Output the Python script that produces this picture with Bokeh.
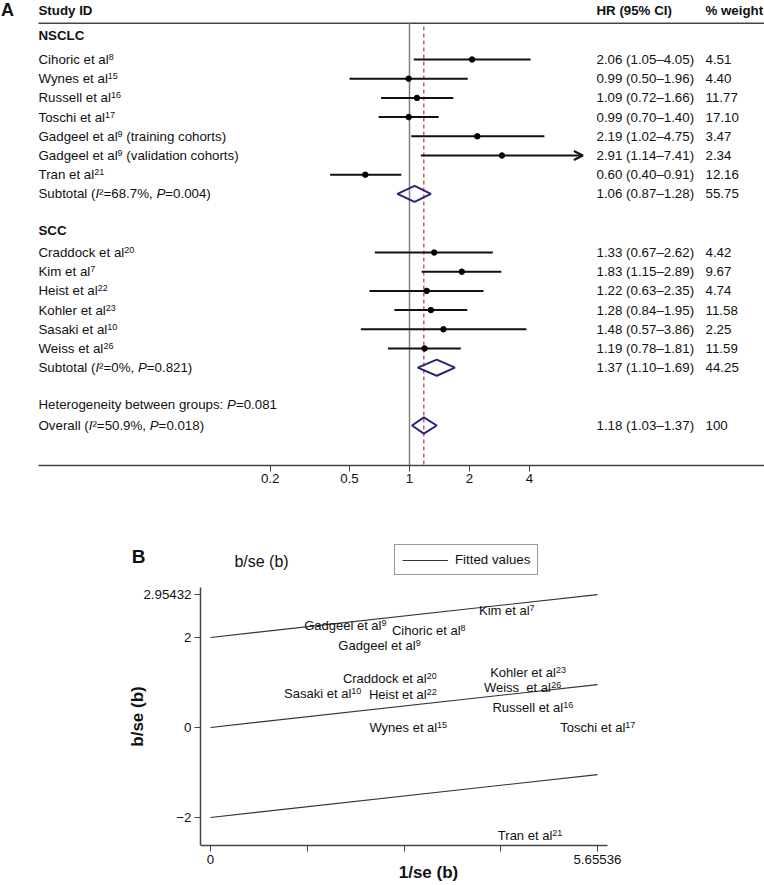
import numpy as np
from bokeh.plotting import figure
from bokeh.models import (Range1d, FixedTicker, NumeralTickFormatter, ColumnDataSource,
                          Arrow, OpenHead, Label, Legend, LegendItem, CustomJSTickFormatter)
from bokeh.core.properties import value
from bokeh.embed import file_html
from bokeh.resources import INLINE

# ---------------- data: panel A (forest plot) ----------------
nsclc_names = ["Cihoric et al", "Wynes et al", "Russell et al", "Toschi et al",
               "Gadgeel et al", "Gadgeel et al", "Tran et al"]
nsclc_refs = ["8", "15", "16", "17", "9", "9", "21"]
nsclc_suffix = ["", "", "", "", "\u00a0(training cohorts)", "\u00a0(validation cohorts)", ""]
nsclc_hr = [2.06, 0.99, 1.09, 0.99, 2.19, 2.91, 0.60]
nsclc_lo = [1.05, 0.50, 0.72, 0.70, 1.02, 1.14, 0.40]
nsclc_hi = [4.05, 1.96, 1.66, 1.40, 4.75, 7.41, 0.91]
nsclc_wt = [4.51, 4.40, 11.77, 17.10, 3.47, 2.34, 12.16]
nsclc_sub = [1.06, 0.87, 1.28]
nsclc_sub_wt = 55.75
nsclc_sub_i2 = "68.7%"
nsclc_sub_p = "0.004"

scc_names = ["Craddock et al", "Kim et al", "Heist et al", "Kohler et al",
             "Sasaki et al", "Weiss et al"]
scc_refs = ["20", "7", "22", "23", "10", "26"]
scc_suffix = ["", "", "", "", "", ""]
scc_hr = [1.33, 1.83, 1.22, 1.28, 1.48, 1.19]
scc_lo = [0.67, 1.15, 0.63, 0.84, 0.57, 0.78]
scc_hi = [2.62, 2.89, 2.35, 1.95, 3.86, 1.81]
scc_wt = [4.42, 9.67, 4.74, 11.58, 2.25, 11.59]
scc_sub = [1.37, 1.10, 1.69]
scc_sub_wt = 44.25
scc_sub_i2 = "0%"
scc_sub_p = "0.821"

het_p = "0.081"
overall = [1.18, 1.03, 1.37]
overall_wt = 100
overall_i2 = "50.9%"
overall_p = "0.018"

forest_ticks = [0.2, 0.5, 1, 2, 4]

# ---------------- data: panel B (Galbraith plot) ----------------
galb_names = ["Gadgeel et al", "Cihoric et al", "Gadgeel et al", "Kim et al",
              "Craddock et al", "Sasaki et al", "Heist et al", "Kohler et al",
              "Weiss\u00a0 et al", "Russell et al", "Wynes et al", "Toschi et al",
              "Tran et al"]
galb_refs = ["9", "8", "9", "7", "20", "10", "22", "23", "26", "16", "15", "17", "21"]
galb_x = [1.97, 3.19, 2.47, 4.33, 2.62, 1.64, 2.81, 4.64, 4.56, 4.71, 2.89, 5.66, 4.67]
galb_y = [2.27, 2.16, 1.82, 2.60, 1.09, 0.76, 0.73, 1.22, 0.89, 0.44, 0.00, 0.01, -2.40]
galb_xmax = 5.65536
galb_ytop = 2.95432
galb_band = 2.0
galb_y_ticks = [-2, 0, 2, 2.95432]
galb_y_labels = ["−2", "0", "2", "2.95432"]
galb_x_labels = ["0", "", "", "", "5.65536"]

# ---------------- layout helpers ----------------
FONT_NAME = "Liberation Sans"
FONT = value(FONT_NAME)
TXT = "#111111"
ARIAL_W = {"S": 667, "u": 556, "b": 556, "t": 278, "o": 556, "a": 556, "l": 222, " ": 278,
           "\u00a0": 278, "(": 333, ")": 333, "²": 333, "=": 584, ".": 278, "%": 889,
           ",": 278, "H": 722, "e": 556, "r": 333, "g": 556, "n": 556, "i": 222, "y": 500,
           "w": 722, "p": 556, "s": 500, ":": 278, "O": 778, "v": 500, "I": 278, "P": 667,
           "C": 722, "h": 556, "c": 500, "W": 944, "R": 722, "T": 611, "G": 778, "d": 556,
           "k": 500, "m": 833, "K": 667}
ARIAL_KERN = {"To": -111, "Tr": -37, "Wy": -18}
FS = 13.3
SUP_FS = 9.0
SUP_DY = -2.5


def text_w(s, size=FS):
    w = sum(ARIAL_W.get(c, 556) for c in s)
    w += sum(ARIAL_KERN.get(s[i:i + 2], 0) for i in range(len(s) - 1))
    return w * size / 1000.0


ONE_PX, PX_PER_DOUBLING = 409.0, 60.0     # page x of HR=1, pixels per doubling


def ax(px):
    return 2.0 ** ((px - ONE_PX) / PX_PER_DOUBLING)


ROW1_PX, ROW_PX = 59.0, 19.2               # page y of first study row, row pitch


def row(py):
    return 1.0 + (py - ROW1_PX) / ROW_PX


W = 764
HA, HB = 500, 385
A_AXIS_PY = 465

pA = figure(width=W, height=HA, x_axis_type="log",
            x_range=Range1d(ax(0), ax(W)), y_range=Range1d(row(A_AXIS_PY), row(0)),
            y_axis_location=None, min_border_left=0, min_border_right=0,
            min_border_top=0, min_border_bottom=HA - A_AXIS_PY,
            output_backend="svg", toolbar_location=None)
pA.outline_line_color = None
pA.xgrid.visible = False
pA.ygrid.visible = False

xa = pA.xaxis[0]
xa.ticker = FixedTicker(ticks=forest_ticks, minor_ticks=[])
xa.formatter = NumeralTickFormatter(format="0.[0]")
xa.bounds = (ax(38), ax(W))
xa.axis_line_color = "#444444"
xa.axis_line_width = 1.5
xa.major_tick_line_color = "#444444"
xa.major_tick_out = 6
xa.major_tick_in = 0
xa.minor_tick_out = 0
xa.minor_tick_in = 0
xa.major_label_standoff = 2
xa.major_label_text_font = FONT_NAME
xa.major_label_text_font_size = "13.3px"
xa.major_label_text_color = TXT

# rows
nsclc_rows = [1.0 + i for i in range(len(nsclc_names))]
nsclc_sub_row = nsclc_rows[-1] + 1
scc_hdr_row = row(230)
scc_rows = [row(252) + i for i in range(len(scc_names))]
scc_sub_row = scc_rows[-1] + 1
het_row = row(404)
overall_row = row(425)
hdr_row = row(10)
hdr_line_row = row(22.7)
nsclc_hdr_row = row(35)

NAME_X = ax(38)
HR_X = ax(596)
WT_X = ax(705)

# header line
pA.segment(x0=[ax(38)], x1=[ax(W)], y0=[hdr_line_row], y1=[hdr_line_row],
           line_color="#444444", line_width=1.5)
# null line and pooled line
pA.segment(x0=[1], x1=[1], y0=[hdr_line_row], y1=[row(A_AXIS_PY)],
           line_color="#808080", line_width=1.5)
pA.segment(x0=[overall[0]], x1=[overall[0]], y0=[row(26)], y1=[row(A_AXIS_PY)],
           line_color="#b03a3a", line_width=1.2, line_dash="4 3")

# bold headers
bold_src = ColumnDataSource(dict(
    x=[NAME_X, HR_X, WT_X, NAME_X, NAME_X],
    y=[hdr_row, hdr_row, hdr_row, nsclc_hdr_row, scc_hdr_row],
    t=["Study ID", "HR (95% CI)", "% weight", "NSCLC", "SCC"]))
pA.text(x="x", y="y", text="t", source=bold_src, text_font=FONT, text_font_size="13.3px",
        text_font_style="bold", text_baseline="middle", text_align="left", text_color=TXT)
pA.add_layout(Label(x=ax(0.5), y=row(9.5), text="A", text_font=FONT_NAME, text_font_size="18px",
                    text_font_style="bold", text_baseline="middle", text_align="left",
                    text_color=TXT))

# study names (base + superscript ref + suffix) and numbers
all_names = nsclc_names + scc_names
all_refs = nsclc_refs + scc_refs
all_suffix = nsclc_suffix + scc_suffix
all_rows = nsclc_rows + scc_rows
all_hr = nsclc_hr + scc_hr
all_lo = nsclc_lo + scc_lo
all_hi = nsclc_hi + scc_hi
all_wt = nsclc_wt + scc_wt


def ci_txt(e, l, h):
    return f"{e:.2f} ({l:.2f}–{h:.2f})"


base = dict(x=[], y=[], t=[], o=[])
sup = dict(x=[], y=[], t=[], o=[])
for nm, rf, sf, r in zip(all_names, all_refs, all_suffix, all_rows):
    base["x"].append(NAME_X); base["y"].append(r); base["t"].append(nm); base["o"].append(0.0)
    bw = text_w(nm)
    sup["x"].append(NAME_X); sup["y"].append(r); sup["t"].append(rf); sup["o"].append(bw)
    if sf:
        base["x"].append(NAME_X); base["y"].append(r); base["t"].append(sf)
        base["o"].append(bw + text_w(rf, SUP_FS))

num_rows = all_rows + [nsclc_sub_row, scc_sub_row, overall_row]
num_ci = [ci_txt(e, l, h) for e, l, h in zip(all_hr, all_lo, all_hi)] + \
    [ci_txt(*nsclc_sub), ci_txt(*scc_sub), ci_txt(*overall)]
num_wt = [f"{w:.2f}" for w in all_wt] + [f"{nsclc_sub_wt:.2f}", f"{scc_sub_wt:.2f}", f"{overall_wt:g}"]
for xs, ts in ((HR_X, num_ci), (WT_X, num_wt)):
    for t, r in zip(ts, num_rows):
        base["x"].append(xs); base["y"].append(r); base["t"].append(t); base["o"].append(0.0)

pA.text(x="x", y="y", text="t", x_offset="o", source=ColumnDataSource(base), text_font=FONT,
        text_font_size="13.3px", text_baseline="middle", text_align="left", text_color=TXT)
pA.text(x="x", y="y", text="t", x_offset="o", y_offset=SUP_DY, source=ColumnDataSource(sup),
        text_font=FONT, text_font_size=f"{SUP_FS}px", text_baseline="middle",
        text_align="left", text_color=TXT)

# composite labels with italic I and P
composites = [
    (nsclc_sub_row, [("Subtotal (", False), ("I", True), (f"²={nsclc_sub_i2}, ", False),
                     ("P", True), (f"={nsclc_sub_p})", False)]),
    (scc_sub_row, [("Subtotal (", False), ("I", True), (f"²={scc_sub_i2}, ", False),
                   ("P", True), (f"={scc_sub_p})", False)]),
    (het_row, [("Heterogeneity between groups: ", False), ("P", True), (f"={het_p}", False)]),
    (overall_row, [("Overall (", False), ("I", True), (f"²={overall_i2}, ", False),
                   ("P", True), (f"={overall_p})", False)]),
]
norm = dict(x=[], y=[], t=[], o=[])
ital = dict(x=[], y=[], t=[], o=[])
for r, pieces in composites:
    off = 0.0
    for s, it in pieces:
        d = ital if it else norm
        d["x"].append(NAME_X)
        d["y"].append(r)
        d["t"].append(s)
        d["o"].append(off)
        off += text_w(s)
for d, style in ((norm, "normal"), (ital, "italic")):
    pA.text(x="x", y="y", text="t", x_offset="o", source=ColumnDataSource(d),
            text_font=FONT, text_font_size="13.3px", text_font_style=style,
            text_baseline="middle", text_align="left", text_color=TXT)

# confidence intervals
CI_CLIP = 6.0
seg_idx = [i for i, h in enumerate(all_hi) if h <= CI_CLIP]
arr_idx = [i for i, h in enumerate(all_hi) if h > CI_CLIP]
pA.segment(x0=[all_lo[i] for i in seg_idx], x1=[all_hi[i] for i in seg_idx],
           y0=[all_rows[i] for i in seg_idx], y1=[all_rows[i] for i in seg_idx],
           line_color="#111111", line_width=2)
for i in arr_idx:
    pA.add_layout(Arrow(end=OpenHead(size=9, line_width=2, line_color="#111111"),
                        x_start=all_lo[i], x_end=all_hi[i], y_start=all_rows[i], y_end=all_rows[i],
                        line_color="#111111", line_width=2))
pA.scatter(x=all_hr, y=all_rows, size=5.5, color="#000000")

# diamonds
DH = 0.42
dia = [(nsclc_sub, nsclc_sub_row), (scc_sub, scc_sub_row), (overall, overall_row)]
pA.patches(xs=[[l, e, h, e] for (e, l, h), r in dia],
           ys=[[r, r - DH, r, r + DH] for (e, l, h), r in dia],
           fill_color=None, line_color="#27277a", line_width=2)

# ---------------- panel B ----------------
B_TOP = HA                                         # page y of panel B top
BX0, BXPPU = 210.0, (597.0 - 210.0) / galb_xmax   # page x of 0, px per unit
BY0, BYPPU = 727.0, 45.0                           # page y of 0, px per unit


def bx(px):
    return (px - BX0) / BXPPU


def by(py):
    return (BY0 - py) / BYPPU


B_LEFT, B_RIGHT, B_BOTTOM = 100, 756, 845          # page coords of the frame
pB = figure(width=W, height=HB,
            x_range=Range1d(bx(B_LEFT), bx(B_RIGHT)), y_range=Range1d(by(B_BOTTOM), by(B_TOP)),
            min_border_left=B_LEFT, min_border_right=W - B_RIGHT, min_border_top=0,
            min_border_bottom=B_TOP + HB - B_BOTTOM, output_backend="svg",
            toolbar_location=None)
pB.outline_line_color = None
pB.grid.visible = False

galb_x_ticks = list(np.linspace(0, galb_xmax, 5))
for axx, ticks, labels, lab in ((pB.xaxis[0], galb_x_ticks, galb_x_labels, "1/se (b)"),
                                (pB.yaxis[0], galb_y_ticks, galb_y_labels, "b/se (b)")):
    axx.ticker = FixedTicker(ticks=ticks, minor_ticks=[])
    axx.formatter = CustomJSTickFormatter(
        args=dict(v=ticks, l=labels),
        code="const i = v.findIndex(t => Math.abs(t - tick) < 1e-6); return i >= 0 ? l[i] : '';")
    axx.axis_line_color = "#444444"
    axx.axis_line_width = 1.5
    axx.major_tick_line_color = "#444444"
    axx.major_tick_out = 6
    axx.major_tick_in = 0
    axx.minor_tick_out = 0
    axx.minor_tick_in = 0
    axx.major_label_standoff = 3
    axx.major_label_text_font = FONT_NAME
    axx.major_label_text_font_size = "13.3px"
    axx.major_label_text_color = TXT
    axx.axis_label = lab
    axx.axis_label_text_font = FONT_NAME
    axx.axis_label_text_font_size = "17px"
    axx.axis_label_text_font_style = "bold"
    axx.axis_label_text_color = TXT

pB.xaxis[0].axis_label_standoff = -4
pB.xaxis[0].bounds = (bx(200), bx(607))
pB.yaxis[0].axis_label_standoff = -7
pB.yaxis[0].fixed_location = bx(200)
pB.yaxis[0].bounds = (by(845), by(587))

slope = (galb_ytop - galb_band) / galb_xmax
line_r = {}
for c in (-galb_band, 0.0, galb_band):
    line_r[c] = pB.line(x=[0, galb_xmax], y=[c, c + slope * galb_xmax],
                        line_color="#333333", line_width=1.2)

gb = dict(x=[], y=[], t=[], o=[])
gs = dict(x=[], y=[], t=[], o=[])
for nm, rf, x, y in zip(galb_names, galb_refs, galb_x, galb_y):
    bw, sw = text_w(nm, 13), text_w(rf, SUP_FS)
    o = -(bw + sw) / 2
    gb["x"].append(x); gb["y"].append(y); gb["t"].append(nm); gb["o"].append(o)
    gs["x"].append(x); gs["y"].append(y); gs["t"].append(rf); gs["o"].append(o + bw)
pB.text(x="x", y="y", text="t", x_offset="o", source=ColumnDataSource(gb), text_font=FONT,
        text_font_size="13px", text_align="left", text_baseline="middle", text_color=TXT)
pB.text(x="x", y="y", text="t", x_offset="o", y_offset=SUP_DY, source=ColumnDataSource(gs),
        text_font=FONT, text_font_size=f"{SUP_FS}px", text_align="left",
        text_baseline="middle", text_color=TXT)

legend = Legend(items=[LegendItem(label="Fitted values", renderers=[line_r[0.0]])],
                location=(394 - B_LEFT, B_BOTTOM - 575), orientation="vertical",
                border_line_color="#333333", border_line_width=1,
                background_fill_color="white", background_fill_alpha=1,
                label_text_font=FONT_NAME, label_text_font_size="13.3px", label_text_color=TXT,
                glyph_width=46, glyph_height=14, label_height=14, label_standoff=7,
                padding=7, margin=0, spacing=0)
pB.add_layout(legend)

pB.text(x=[bx(138)], y=[by(556)], text=["B"], text_font=FONT, text_font_size="19px",
        text_font_style="bold", text_align="center", text_baseline="middle", text_color=TXT)
pB.text(x=[bx(261)], y=[by(561)], text=["b/se (b)"], text_font=FONT,
        text_font_size="16px", text_align="center", text_baseline="middle", text_color=TXT)

open("out.html", "w").write(file_html([pA, pB], INLINE))
